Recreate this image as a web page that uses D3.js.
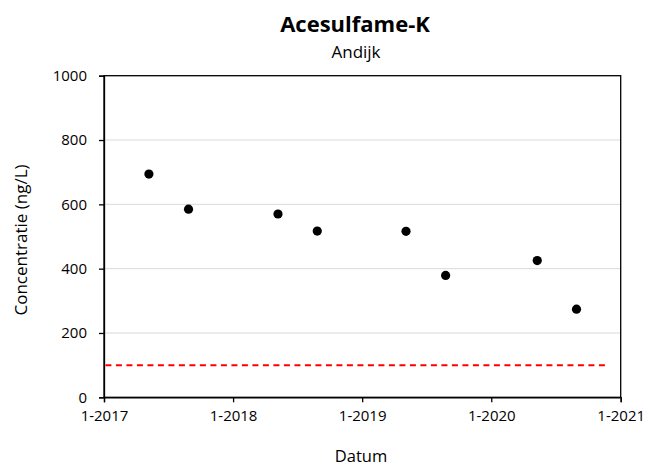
<!DOCTYPE html>
<meta charset="utf-8">
<script src="https://d3js.org/d3.v7.min.js"></script>
<style>
  body { margin: 0; background: #fff; }
  text { font-family: "Open Sans", sans-serif; fill: #000; }
</style>
<div id="chart"></div>
<script>
// measurement dates and concentrations (ng/L)
var dates = ["2017-05-08", "2017-08-28", "2018-05-08", "2018-08-27",
             "2019-05-05", "2019-08-25", "2020-05-10", "2020-08-29"];
var values = [694, 585, 570, 517, 516, 379, 425, 274];

// target value line (dashed red)
var limitDates = ["2017-01-05", "2020-11-24"];
var limitValue = 100;

var xTicks = ["2017-01-01", "2018-01-01", "2019-01-01", "2020-01-01", "2021-01-01"];
var yTicks = [0, 200, 400, 600, 800, 1000];

var width = 662, height = 470;
var margin = {top: 75.7, right: 41.3, bottom: 72.7, left: 104};

var parse = d3.timeParse("%Y-%m-%d");

var svg = d3.select("#chart").append("svg")
  .attr("width", width)
  .attr("height", height);

var x = d3.scaleTime()
  .domain([parse(xTicks[0]), parse(xTicks[xTicks.length - 1])])
  .range([margin.left, width - margin.right]);

var y = d3.scaleLinear()
  .domain([0, 1000])
  .range([height - margin.bottom, margin.top]);

// gridlines
svg.append("g")
  .selectAll("line")
  .data(yTicks.slice(1, -1))
  .enter().append("line")
    .attr("x1", margin.left)
    .attr("x2", width - margin.right)
    .attr("y1", function(d) { return y(d); })
    .attr("y2", function(d) { return y(d); })
    .attr("stroke", "#d9d9d9")
    .attr("stroke-width", 1);

// plot frame
svg.append("rect")
  .attr("x", margin.left)
  .attr("y", margin.top)
  .attr("width", width - margin.left - margin.right)
  .attr("height", height - margin.top - margin.bottom)
  .attr("fill", "none")
  .attr("stroke", "#000")
  .attr("stroke-width", 1.3);

// axes
var xAxis = svg.append("g")
  .attr("transform", "translate(0," + (height - margin.bottom) + ")")
  .call(d3.axisBottom(x)
    .tickValues(xTicks.map(parse))
    .tickFormat(d3.timeFormat("%-m-%Y"))
    .tickSize(5)
    .tickPadding(8));

var yAxis = svg.append("g")
  .attr("transform", "translate(" + margin.left + ",0)")
  .call(d3.axisLeft(y)
    .tickValues(yTicks)
    .tickFormat(d3.format("d"))
    .tickSize(5)
    .tickPadding(12));

[xAxis, yAxis].forEach(function(a) {
  a.select(".domain").attr("stroke", "#000").attr("stroke-width", 1.3);
  a.selectAll(".tick line").attr("stroke", "#000").attr("stroke-width", 1.3);
  a.selectAll(".tick text")
    .attr("font-size", "15px")
    .attr("font-family", "'Open Sans', sans-serif")
    .attr("fill", "#000");
});

// limit line
var line = d3.line()
  .x(function(d) { return x(parse(d)); })
  .y(function() { return y(limitValue); });

svg.append("path")
  .datum(limitDates)
  .attr("d", line)
  .attr("fill", "none")
  .attr("stroke", "#ff0000")
  .attr("stroke-width", 2)
  .attr("stroke-dasharray", "6,4.5");

// points
svg.append("g")
  .selectAll("circle")
  .data(dates)
  .enter().append("circle")
    .attr("cx", function(d) { return x(parse(d)); })
    .attr("cy", function(d, i) { return y(values[i]); })
    .attr("r", 4.6)
    .attr("fill", "#000");

// titles
svg.append("text")
  .attr("x", 355)
  .attr("y", 31.5)
  .attr("text-anchor", "middle")
  .attr("font-size", "22px")
  .attr("font-weight", "bold")
  .text("Acesulfame-K");

svg.append("text")
  .attr("x", 356)
  .attr("y", 58)
  .attr("text-anchor", "middle")
  .attr("font-size", "17px")
  .text("Andijk");

svg.append("text")
  .attr("transform", "translate(27,240) rotate(-90)")
  .attr("text-anchor", "middle")
  .attr("font-size", "17px")
  .text("Concentratie (ng/L)");

svg.append("text")
  .attr("x", 361)
  .attr("y", 462)
  .attr("text-anchor", "middle")
  .attr("font-size", "16.5px")
  .text("Datum");
</script>
